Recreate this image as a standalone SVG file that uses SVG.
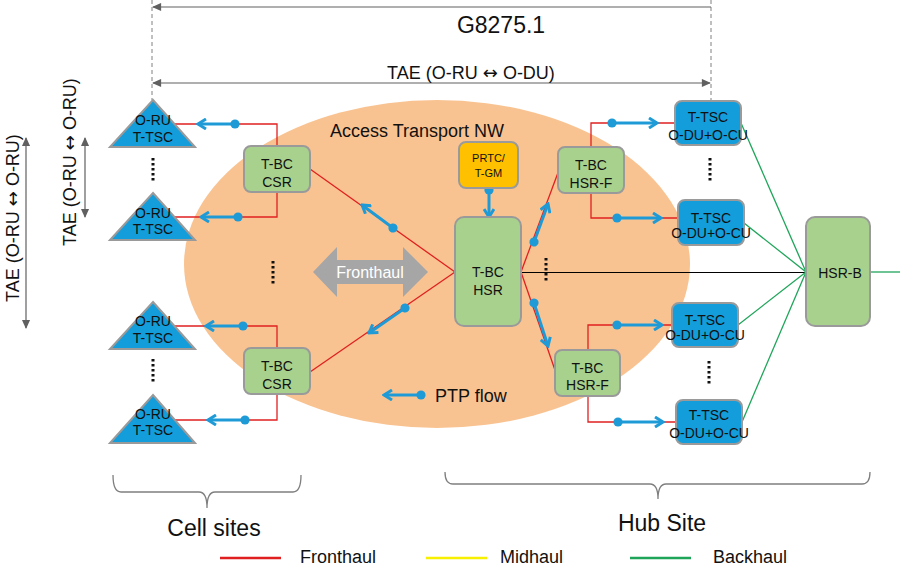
<svg xmlns="http://www.w3.org/2000/svg" width="900" height="568" viewBox="0 0 900 568">
<style>
text{font-family:"Liberation Sans",Arial,sans-serif;fill:#111;}
.nt{font-size:14px;text-anchor:middle;}
.big{font-size:23px;text-anchor:middle;}
.mid{font-size:18px;text-anchor:middle;}
.lg{font-size:18px;}
.arr{font-family:"DejaVu Sans",sans-serif;}
.green{fill:#a9d18e;stroke:#9a9a9a;stroke-width:2;}
.blue{fill:#139ddb;stroke:#9a9a9a;stroke-width:2;}
.gold{fill:#ffc000;stroke:#9a9a9a;stroke-width:2;}
.red{fill:none;stroke:#e02020;stroke-width:1.3;}
.grn{fill:none;stroke:#1fa55a;stroke-width:1.3;}
.blk{fill:none;stroke:#000;stroke-width:1.2;}
.ptp{fill:none;stroke:#1e9bd7;stroke-width:3;marker-start:url(#dot);marker-end:url(#ah);}
.dots{stroke:#111;stroke-width:3;stroke-dasharray:2.5 2.5;}
.dim{stroke:#606060;stroke-width:1.2;fill:none;}
.dash{stroke:#808080;stroke-width:1;stroke-dasharray:4 3;}
.brace{fill:none;stroke:#7f7f7f;stroke-width:1.3;}
</style>
<defs>
<marker id="ah" viewBox="0 0 12 12" refX="10" refY="6" markerWidth="12" markerHeight="12" orient="auto" markerUnits="userSpaceOnUse">
<path d="M2,1 L10,6 L2,11" fill="none" stroke="#1e9bd7" stroke-width="3"/>
</marker>
<marker id="dot" viewBox="0 0 10 10" refX="5" refY="5" markerWidth="10" markerHeight="10" orient="auto" markerUnits="userSpaceOnUse">
<circle cx="5" cy="5" r="4.6" fill="#1e9bd7"/>
</marker>
<marker id="gh" viewBox="0 0 10 10" refX="9" refY="5" markerWidth="10" markerHeight="9" orient="auto-start-reverse" markerUnits="userSpaceOnUse">
<path d="M0,0.5 L10,5 L0,9.5 Z" fill="#606060"/>
</marker>
</defs>
<rect width="900" height="568" fill="#fff"/>

<!-- access network area -->
<ellipse id="access-nw" cx="437" cy="264" rx="253" ry="164" fill="#f9c391"/>
<text x="417" y="137" class="mid">Access Transport NW</text>

<!-- dimension lines -->
<g id="dimensions">
<line x1="152" y1="0" x2="152" y2="100" class="dash"/>
<line x1="711" y1="0" x2="711" y2="101" class="dash"/>
<line x1="711" y1="7" x2="153" y2="7" class="dim" marker-end="url(#gh)"/>
<text x="501" y="33" class="big">G8275.1</text>
<line x1="153" y1="83" x2="710" y2="83" class="dim" marker-start="url(#gh)" marker-end="url(#gh)"/>
<text x="471" y="79" class="mid">TAE (O-RU <tspan class="arr">↔</tspan> O-DU)</text>
<line x1="26" y1="138" x2="26" y2="328" class="dim" marker-start="url(#gh)" marker-end="url(#gh)"/>
<text transform="translate(18.5,218) rotate(-90)" class="mid">TAE (O-RU <tspan class="arr">↔</tspan> O-RU)</text>
<line x1="85" y1="138" x2="85" y2="217" class="dim" marker-start="url(#gh)" marker-end="url(#gh)"/>
<text transform="translate(75.5,162) rotate(-90)" class="mid">TAE (O-RU <tspan class="arr">↔</tspan> O-RU)</text>
</g>

<!-- connectors -->
<g id="connectors">
<polyline points="175,124 277,124 277,146" class="red"/>
<polyline points="175,217 277,217 277,192" class="red"/>
<polyline points="175,326 277,326 277,348" class="red"/>
<polyline points="175,420 277,420 277,394" class="red"/>
<line x1="310" y1="169" x2="455" y2="272" class="red"/>
<line x1="310" y1="372" x2="455" y2="272" class="red"/>
<line x1="521" y1="272" x2="559" y2="170" class="red"/>
<line x1="521" y1="272" x2="556" y2="373" class="red"/>
<polyline points="591,147 591,123 675,123" class="red"/>
<polyline points="591,193 591,218 678,218" class="red"/>
<polyline points="588,350 588,325 672,325" class="red"/>
<polyline points="588,396 588,422 676,422" class="red"/>
<line x1="521" y1="272.5" x2="806" y2="272.5" class="blk"/>
<line x1="741" y1="123" x2="806" y2="272" class="grn"/>
<line x1="744" y1="223" x2="806" y2="272" class="grn"/>
<line x1="738" y1="325" x2="806" y2="272" class="grn"/>
<line x1="742" y1="422" x2="806" y2="272" class="grn"/>
<line x1="870" y1="272" x2="900" y2="272" class="grn"/>
</g>

<!-- PTP flows -->
<g id="ptp-flows">
<line x1="235" y1="124" x2="198" y2="124" class="ptp"/>
<line x1="238" y1="217" x2="201" y2="217" class="ptp"/>
<line x1="243" y1="326" x2="206" y2="326" class="ptp"/>
<line x1="245" y1="420" x2="208" y2="420" class="ptp"/>
<line x1="393" y1="228" x2="362" y2="205" class="ptp"/>
<line x1="405" y1="308" x2="369" y2="333" class="ptp"/>
<line x1="489" y1="190" x2="489" y2="217" class="ptp"/>
<line x1="534" y1="242" x2="548" y2="204" class="ptp"/>
<line x1="534" y1="303" x2="548" y2="346" class="ptp"/>
<line x1="612" y1="123" x2="657" y2="123" class="ptp"/>
<line x1="617" y1="218" x2="661" y2="218" class="ptp"/>
<line x1="617" y1="325" x2="662" y2="325" class="ptp"/>
<line x1="618" y1="422" x2="663" y2="422" class="ptp"/>
</g>

<!-- fronthaul arrow -->
<g id="fronthaul-arrow">
<polygon points="313,272 337,247 337,260 403,260 403,247 428,272 403,297 403,284 337,284 337,297" fill="#a6a6a6"/>
<text x="370" y="278" font-size="16" text-anchor="middle" style="fill:#fff">Fronthaul</text>
</g>

<!-- cell site O-RUs -->
<g id="oru-1"><polygon points="153,100 195,147 110,147" class="blue"/><text x="153" y="125" class="nt">O-RU</text><text x="153" y="142" class="nt">T-TSC</text></g>
<g id="oru-2"><polygon points="153,193 195,240 110,240" class="blue"/><text x="153" y="218" class="nt">O-RU</text><text x="153" y="234" class="nt">T-TSC</text></g>
<g id="oru-3"><polygon points="153,302 195,349 110,349" class="blue"/><text x="153" y="326" class="nt">O-RU</text><text x="153" y="343" class="nt">T-TSC</text></g>
<g id="oru-4"><polygon points="153,395 195,443 110,443" class="blue"/><text x="153" y="419" class="nt">O-RU</text><text x="153" y="435" class="nt">T-TSC</text></g>

<g id="ellipses">
<line x1="153" y1="158" x2="153" y2="183" class="dots"/>
<line x1="153" y1="359" x2="153" y2="384" class="dots"/>
<line x1="273" y1="261" x2="273" y2="286" class="dots"/>
<line x1="546" y1="258" x2="546" y2="283" class="dots"/>
<line x1="710" y1="158" x2="710" y2="183" class="dots"/>
<line x1="709" y1="361" x2="709" y2="386" class="dots"/>
</g>

<!-- CSR -->
<g id="csr-1"><rect x="244" y="146" width="66" height="46" rx="7" class="green"/><text x="277" y="169" class="nt">T-BC</text><text x="277" y="187" class="nt">CSR</text></g>
<g id="csr-2"><rect x="244" y="348" width="66" height="46" rx="7" class="green"/><text x="277" y="371" class="nt">T-BC</text><text x="277" y="389" class="nt">CSR</text></g>

<!-- HSR -->
<g id="hsr"><rect x="455" y="217" width="66" height="109" rx="9" class="green"/><text x="488" y="277" class="nt">T-BC</text><text x="488" y="295" class="nt">HSR</text></g>
<g id="prtc"><rect x="459" y="142" width="59" height="46" rx="7" class="gold"/><text x="488.5" y="162" font-size="11" text-anchor="middle">PRTC/</text><text x="488.5" y="177" font-size="11" text-anchor="middle">T-GM</text></g>

<!-- HSR-F -->
<g id="hsrf-1"><rect x="558" y="147" width="66" height="46" rx="7" class="green"/><text x="591" y="170" class="nt">T-BC</text><text x="591" y="188" class="nt">HSR-F</text></g>
<g id="hsrf-2"><rect x="555" y="350" width="65" height="46" rx="7" class="green"/><text x="587.5" y="373" class="nt">T-BC</text><text x="587.5" y="390" class="nt">HSR-F</text></g>

<!-- T-TSC DU/CU -->
<g id="tsc-1"><rect x="675" y="101" width="66" height="44" rx="7" class="blue"/><text x="708" y="122" class="nt">T-TSC</text><text x="708" y="140" class="nt">O-DU+O-CU</text></g>
<g id="tsc-2"><rect x="678" y="200" width="66" height="45" rx="7" class="blue"/><text x="711" y="223" class="nt">T-TSC</text><text x="711" y="238" class="nt">O-DU+O-CU</text></g>
<g id="tsc-3"><rect x="672" y="303" width="66" height="44" rx="7" class="blue"/><text x="705" y="325" class="nt">T-TSC</text><text x="705" y="340" class="nt">O-DU+O-CU</text></g>
<g id="tsc-4"><rect x="676" y="400" width="66" height="44" rx="7" class="blue"/><text x="709" y="420" class="nt">T-TSC</text><text x="709" y="438" class="nt">O-DU+O-CU</text></g>

<!-- HSR-B -->
<g id="hsrb"><rect x="806" y="217" width="64" height="109" rx="9" class="green"/><text x="840" y="278" class="nt">HSR-B</text></g>

<!-- PTP legend -->
<g id="ptp-legend">
<line x1="421" y1="395" x2="384" y2="395" class="ptp"/>
<text x="435" y="402" font-size="18">PTP flow</text>
</g>

<!-- braces -->
<g id="cell-sites">
<path d="M113,475 Q113,492 121,492 L199,492 Q207,492 207,508 Q207,492 215,492 L293,492 Q301,492 301,475" class="brace"/>
<text x="214" y="536" class="big">Cell sites</text>
</g>
<g id="hub-site">
<path d="M445,472 Q445,484 453,484 L650,484 Q658,484 658,499 Q658,484 666,484 L862,484 Q870,484 870,472" class="brace"/>
<text x="662" y="531" class="big">Hub Site</text>
</g>

<!-- legend -->
<g id="legend">
<line x1="220" y1="558" x2="281" y2="558" stroke="#e02020" stroke-width="2.5"/>
<text x="300" y="563" class="lg">Fronthaul</text>
<line x1="426" y1="558" x2="487" y2="558" stroke="#f7f000" stroke-width="2.5"/>
<text x="500" y="563" class="lg">Midhaul</text>
<line x1="630" y1="558" x2="691" y2="558" stroke="#1fa55a" stroke-width="2.5"/>
<text x="713" y="563" class="lg">Backhaul</text>
</g>
</svg>
